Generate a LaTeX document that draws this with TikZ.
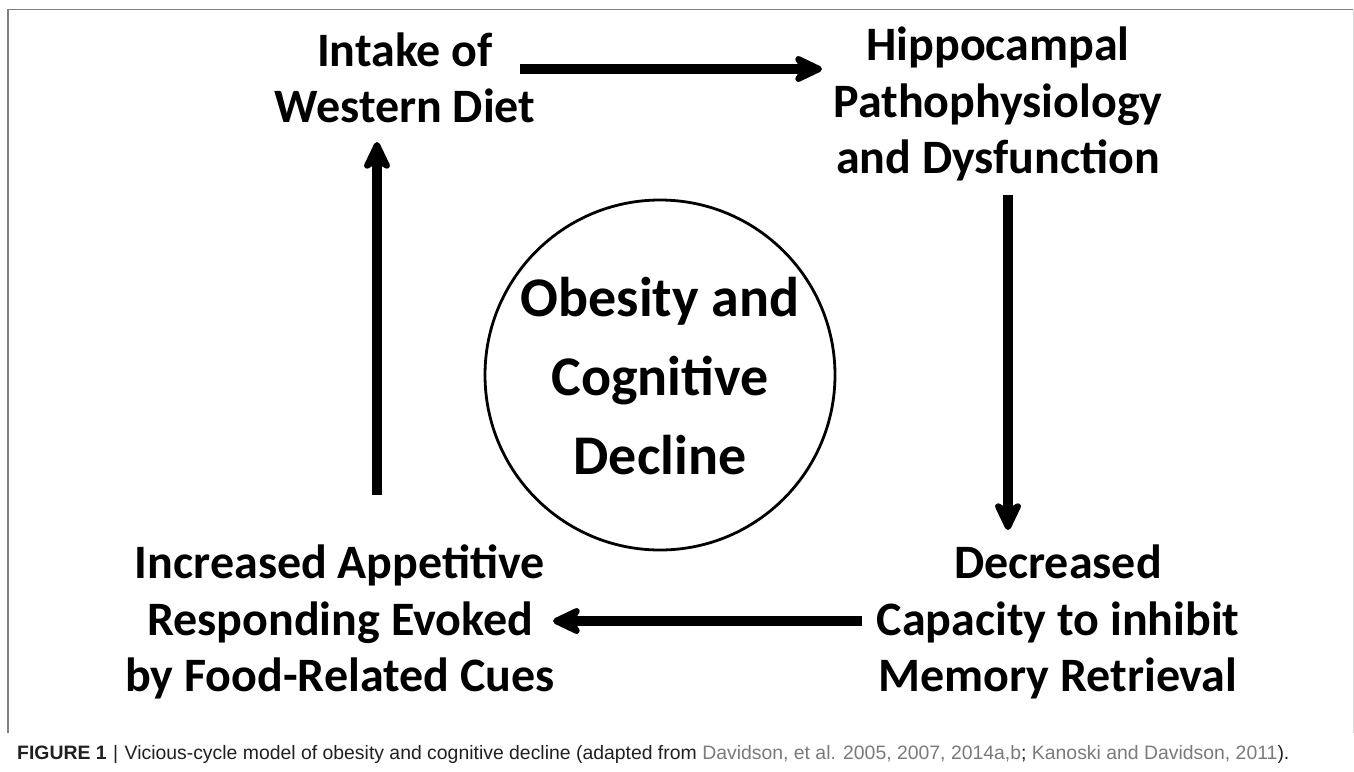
\documentclass[tikz,border=0pt]{standalone}
\usepackage{fontspec}
\setmainfont{Carlito}
\newfontfamily\capfont{Liberation Sans}
\usetikzlibrary{arrows.meta}
\definecolor{linkgray}{HTML}{7A7A7A}
\definecolor{capblack}{HTML}{231F20}
\tikzset{
  lbl/.style={align=center, font=\fontsize{48}{56.5}\selectfont\bfseries, text=black, inner sep=0pt},
  biglbl/.style={align=center, font=\fontsize{56}{79}\selectfont\bfseries, text=black, inner sep=0pt},
  fat/.style={line width=10pt, -{Stealth[length=36pt,width=34pt,inset=11pt,round]}},
}
\begin{document}
\begin{tikzpicture}[x=1pt,y=1pt]
\useasboundingbox (0,0) rectangle (1354,-771);
% frame
\draw[gray, line width=1.6pt] (8,-733) -- (8,-9.5) -- (1353,-9.5);
\draw[black!15, line width=1pt] (1353,-9.5) -- (1353,-733);
% nodes
\node[lbl] (diet) at (405,-78) {Intake of\\Western Diet};
\node[lbl] (hippo) at (998,-104) {Hippocampal\\Pathophysiology\\and Dysfunction};
\node[lbl] (decr) at (1058,-622) {Decreased\\Capacity to inhibit\\Memory Retrieval};
\node[lbl] (incr) at (340,-622) {Increased Appetitive\\Responding Evoked\\by Food-Related Cues};
\node[draw, circle, line width=2.8pt, minimum size=350pt, inner sep=0pt] (circ) at (660,-375) {};
\node[biglbl] (obes) at ([yshift=-1pt]circ.center) {Obesity and\\Cognitive\\Decline};
% arrows
\coordinate (a1s) at (520,-69);  \coordinate (a1e) at (822,-69);
\coordinate (a2s) at (1008,-195); \coordinate (a2e) at (1008,-530);
\coordinate (a3s) at (862,-621); \coordinate (a3e) at (553,-621);
\coordinate (a4s) at (377,-495); \coordinate (a4e) at (377,-142);
\draw[fat] (a1s) -- (a1e);
\draw[fat] (a2s) -- (a2e);
\draw[fat] (a3s) -- (a3e);
\draw[fat] (a4s) -- (a4e);
% caption
\node[anchor=base west, inner sep=0pt, text=capblack, font=\capfont\fontsize{19.4}{22}\selectfont] (cap) at (17,-759)
  {{\bfseries FIGURE 1}\,\,|\,\,Vicious-cycle model of obesity and cognitive decline (adapted from \textcolor{linkgray}{Davidson, et al. 2005, 2007, 2014a,b}; \textcolor{linkgray}{Kanoski and Davidson, 2011}).};
\end{tikzpicture}
\end{document}
